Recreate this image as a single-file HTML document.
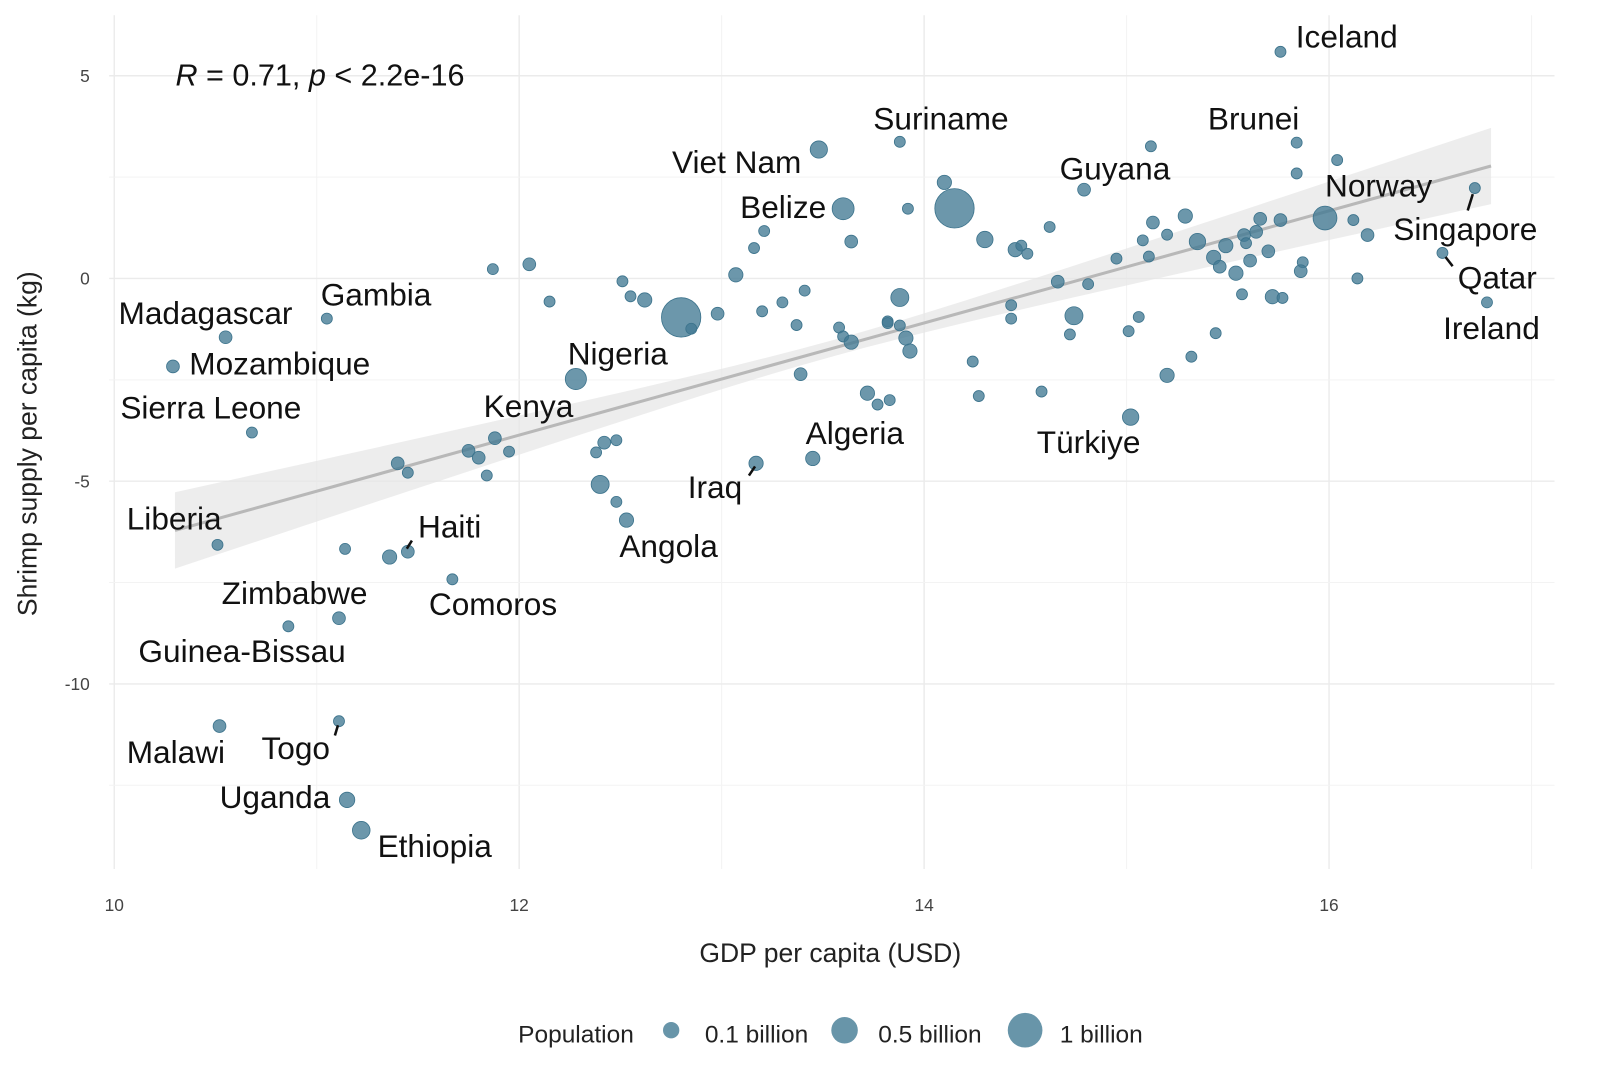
<!DOCTYPE html>
<html><head><meta charset="utf-8">
<style>
body{margin:0;background:#fff;}
svg{display:block;font-family:"Liberation Sans",sans-serif;}
</style></head>
<body>
<svg id="chart" width="1600" height="1066" viewBox="0 0 1600 1066" xmlns="http://www.w3.org/2000/svg">
<rect x="0" y="0" width="1600" height="1066" fill="#fff"/>
<g transform="scale(1.02)">
<g id="grid"></g>
<g id="band"></g>
<g id="pts"></g>
<g id="labs"></g>
<g id="axes"></g>
<text x="172" y="84" font-size="30" fill="#111"><tspan font-style="italic">R</tspan> = 0.71, <tspan font-style="italic">p</tspan> &lt; 2.2e-16</text>
<text x="814" y="943" font-size="26" text-anchor="middle" fill="#222">GDP per capita (USD)</text>
<text transform="translate(36,435) rotate(-90)" font-size="26" text-anchor="middle" fill="#222">Shrimp supply per capita (kg)</text>
<g>
<text x="508" y="1022" font-size="24" fill="#222">Population</text>
<circle cx="658" cy="1010" r="8" fill="rgb(66,122,148)" fill-opacity="0.8"/>
<text x="691" y="1022" font-size="24" fill="#222">0.1 billion</text>
<circle cx="828" cy="1010" r="13" fill="rgb(66,122,148)" fill-opacity="0.8"/>
<text x="861" y="1022" font-size="24" fill="#222">0.5 billion</text>
<circle cx="1005" cy="1010" r="17" fill="rgb(66,122,148)" fill-opacity="0.8"/>
<text x="1039" y="1022" font-size="24" fill="#222">1 billion</text>
</g>
</g>
</svg>
<script>
// data: [gdp (log), shrimp, population millions]
const gdp = [13.48,13.60,13.21,13.16,13.64,11.87,12.05,12.51,13.07,12.15,12.55,12.62,12.80,12.85,12.98,13.20,13.30,13.41,13.37,13.58,13.60,13.64,13.82,13.88,10.55,11.05,10.29,12.28,13.39,13.72,13.77,13.83,10.68,11.88,11.75,11.80,11.95,11.40,11.45,11.84,12.42,12.48,12.38,13.45,13.17,12.40,12.48,
15.76,13.88,15.84,15.12,16.04,15.84,14.79,16.72,14.10,14.15,13.92,15.98,16.12,16.19,15.76,15.66,15.29,15.13,14.62,15.20,15.08,15.35,15.49,15.58,15.59,15.64,15.70,15.43,15.46,15.61,15.54,15.87,15.86,16.14,14.30,14.45,14.48,14.51,14.95,15.11,14.66,14.81,16.56,16.78,15.57,15.72,15.77,14.43,14.43,14.74,14.72,15.06,15.01,15.44,13.82,13.88,13.91,13.93,14.24,15.32,15.20,14.27,14.58,15.02,
10.51,11.45,11.36,11.14,11.67,12.53,11.11,10.86,10.52,11.11,11.15,11.22];
const shrimp = [3.18,1.72,1.17,0.75,0.91,0.23,0.35,-0.07,0.09,-0.57,-0.44,-0.53,-0.96,-1.24,-0.87,-0.81,-0.59,-0.30,-1.15,-1.21,-1.43,-1.57,-1.06,-0.47,-1.45,-0.99,-2.17,-2.48,-2.36,-2.83,-3.11,-3.00,-3.80,-3.94,-4.25,-4.42,-4.27,-4.56,-4.79,-4.86,-4.05,-3.99,-4.29,-4.44,-4.56,-5.08,-5.51,
5.59,3.37,3.35,3.26,2.92,2.59,2.19,2.23,2.37,1.73,1.72,1.49,1.44,1.07,1.44,1.47,1.54,1.38,1.27,1.08,0.94,0.91,0.81,1.07,0.87,1.15,0.67,0.52,0.29,0.44,0.13,0.40,0.18,0.00,0.96,0.71,0.81,0.61,0.49,0.54,-0.08,-0.14,0.63,-0.59,-0.39,-0.45,-0.48,-0.66,-0.99,-0.92,-1.38,-0.95,-1.30,-1.35,-1.10,-1.16,-1.47,-1.79,-2.05,-1.93,-2.39,-2.90,-2.79,-3.42,
-6.57,-6.74,-6.87,-6.67,-7.42,-5.96,-8.38,-8.58,-11.04,-10.92,-12.86,-13.61];
const population = [100,250,5,5,20,5,20,5,40,5,5,40,1400,5,20,5,5,5,5,5,5,40,5,120,20,5,20,220,20,40,5,5,5,20,20,20,5,20,5,5,20,5,5,40,40,120,5,
5,5,5,5,5,5,20,5,40,1400,5,330,5,20,20,20,40,20,5,5,5,80,40,20,5,20,20,40,20,20,40,5,20,5,80,40,5,5,5,5,20,5,5,5,5,40,5,5,5,120,5,5,5,5,5,5,40,40,5,5,40,5,5,80,
5,20,40,5,5,40,20,5,20,5,60,110];
const labelNames = ["Viet Nam","Belize","Nigeria","Madagascar","Gambia","Mozambique","Sierra Leone","Kenya","Algeria","Iraq","Iceland","Suriname","Brunei","Guyana","Singapore","Norway","Qatar","Ireland","Türkiye","Liberia","Haiti","Comoros","Angola","Zimbabwe","Guinea-Bissau","Malawi","Togo","Uganda","Ethiopia"];
const labelIndex = [0,1,27,24,25,26,32,33,43,44,47,48,49,53,54,58,89,90,110,111,112,115,116,117,118,119,120,121,122];
const tickX = [10,12,14,16];
const tickY = [5,0,-5,-10];
const fitLine = [-20.46, 1.383]; // intercept, slope
// styling / layout
const labelOff = {"Viet Nam":[-144,23],"Belize":[-101,9],"Nigeria":[-8,-14],"Madagascar":[-105,-13],"Gambia":[-6,-13],"Mozambique":[16,8],"Sierra Leone":[-129,-14],"Kenya":[-11,-21],"Algeria":[-7,-14],"Iraq":[-67,34],"Iceland":[15,-4],"Suriname":[-26,-12],"Brunei":[-87,-13],"Guyana":[-24,-10],"Singapore":[-80,51],"Norway":[0,-21],"Qatar":[15,35],"Ireland":[-43,36],"Türkiye":[-92,35],"Liberia":[-89,-15],"Haiti":[10,-14],"Comoros":[-23,35],"Angola":[-7,36],"Zimbabwe":[-115,-14],"Guinea-Bissau":[-147,35],"Malawi":[-91,36],"Togo":[-76,37],"Uganda":[-125,8],"Ethiopia":[16,26]};
const leaders = {"Singapore":[-2,6,-7,22],"Qatar":[3,4,10,13],"Iraq":[-1,3,-7,12],"Haiti":[-1,-3,4,-11],"Togo":[-1,4,-4,14]};
const NS="http://www.w3.org/2000/svg";
const X0=107,X1=1524,Y0=15,Y1=852;
const sx=v=>112+(v-10)*198.5;
const sy=v=>273-v*39.75;
const rs=p=>4.5+12.5*Math.sqrt(p/1000);
function mk(tag,attrs,parent){const e=document.createElementNS(NS,tag);for(const k in attrs)e.setAttribute(k,attrs[k]);parent.appendChild(e);return e;}
const grid=document.getElementById('grid');
for(let v=10;v<=17;v++){
  const l=mk('line',{x1:sx(v),x2:sx(v),y1:Y0,y2:Y1,stroke:v%2?'#f3f3f3':'#ebebeb','stroke-width':v%2?1:1.4},grid);
  
  
}
for(let v=-12.5;v<=5;v+=2.5){
  const major=Number.isInteger(v/5);
  const l=mk('line',{x1:X0,x2:X1,y1:sy(v),y2:sy(v),stroke:major?'#ebebeb':'#f3f3f3','stroke-width':major?1.4:1},grid);
  
  
}
const axes=document.getElementById('axes');
tickX.forEach(v=>{const t=mk('text',{x:sx(v),y:893,'font-size':17,'text-anchor':'middle',fill:'#444'},axes);t.textContent=v;
  
  });
tickY.forEach(v=>{const t=mk('text',{x:88,y:sy(v)+6,'font-size':17,'text-anchor':'end',fill:'#444'},axes);t.textContent=v;
  
  });
// regression
const band=document.getElementById('band');
const xa=10.3,xb=16.8;const fy=x=>fitLine[0]+fitLine[1]*x;const hw=x=>Math.sqrt(0.04+0.08*(x-13.55)**2);
let up=[],dn=[];for(let i=0;i<=40;i++){const x=xa+(xb-xa)*i/40;up.push(sx(x)+','+sy(fy(x)+hw(x)));dn.unshift(sx(x)+','+sy(fy(x)-hw(x)));}
const poly=mk('polygon',{points:up.concat(dn).join(' '),fill:'#e6e6e6','fill-opacity':0.7},band);


const fl=mk('line',{x1:sx(xa),y1:sy(fy(xa)),x2:sx(xb),y2:sy(fy(xb)),stroke:'#b8b8b8','stroke-width':3},band);


const pts=document.getElementById('pts');
gdp.forEach((g,i)=>{const c=mk('circle',{cx:sx(g),cy:sy(shrimp[i]),r:rs(population[i]),fill:'rgb(66,122,148)','fill-opacity':0.78,stroke:'rgb(60,115,140)','stroke-width':0.8},pts);
  
  });
const labs=document.getElementById('labs');
labelNames.forEach((n,k)=>{const i=labelIndex[k];const px=sx(gdp[i]),py=sy(shrimp[i]);const o=labelOff[n];
  const L=leaders[n];
  if(L){const ln=mk('line',{x1:px+L[0],y1:py+L[1],x2:px+L[2],y2:py+L[3],stroke:'#111','stroke-width':2.5},labs);
    
    }
  const t=mk('text',{x:px+o[0],y:py+o[1],'font-size':31,fill:'#111'},labs);t.textContent=n;
  
  });
</script>
</body></html>
